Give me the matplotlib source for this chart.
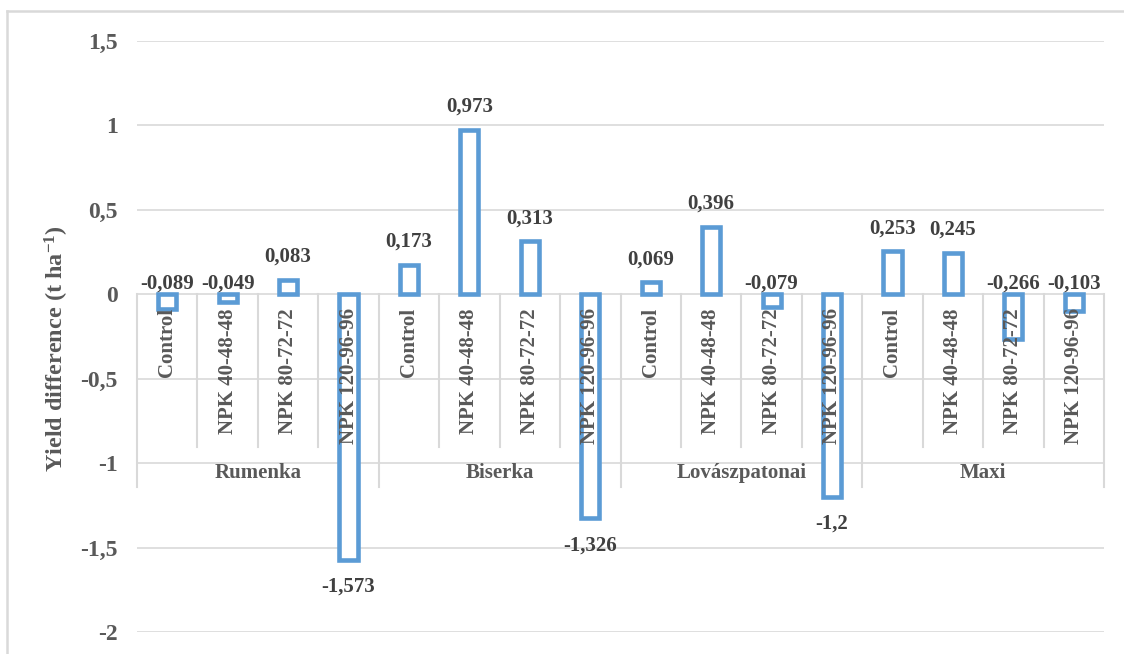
import matplotlib
matplotlib.use("Agg")
import matplotlib.pyplot as plt
from matplotlib.lines import Line2D

groups = ["Rumenka", "Biserka", "Lovászpatonai", "Maxi"]
treatments = ["Control", "NPK 40-48-48", "NPK 80-72-72", "NPK 120-96-96"]
values = [-0.089, -0.049, 0.083, -1.573,
          0.173, 0.973, 0.313, -1.326,
          0.069, 0.396, -0.079, -1.2,
          0.253, 0.245, -0.266, -0.103]
yticks = [-2, -1.5, -1, -0.5, 0, 0.5, 1, 1.5]

plt.rcParams['font.family'] = ['Liberation Serif', 'DejaVu Serif']
plt.rcParams['font.weight'] = 'bold'
plt.rcParams['mathtext.fontset'] = 'custom'
plt.rcParams['mathtext.rm'] = 'Liberation Serif:bold'
plt.rcParams['mathtext.default'] = 'rm'

W, H = 1124, 654
fig = plt.figure(figsize=(W / 100, H / 100), dpi=100)
left, right, top, bottom = 137, 1104, 40.5, 632
ax = fig.add_axes([left / W, 1 - bottom / H, (right - left) / W, (bottom - top) / H])

edge = '#5B9BD5'
grid = '#D9D9D9'
tick_c = '#595959'
lab_c = '#404040'

n = len(values)
x = list(range(n))
ax.bar(x, values, width=0.3, facecolor='white', edgecolor=edge, linewidth=3.3, zorder=3)

ax.set_xlim(-0.5, n - 0.5)
ax.set_ylim(-2, 1.5)
ax.set_yticks(yticks)
ax.set_yticklabels([("%g" % t).replace('.', ',') for t in yticks])
ax.tick_params(axis='y', length=0, pad=14, labelsize=17, labelcolor=tick_c)
ax.set_xticks([])
for s in ax.spines.values():
    s.set_visible(False)
for t in yticks:
    ax.axhline(t, color=grid, lw=1.2, zorder=1)

# pixels to data units (y)
px = 3.5 / (bottom - top)

# category axis separators
for k in range(n + 1):
    xb = k - 0.5
    long_ = (k % 4 == 0)
    y2 = -193 * px if long_ else -153 * px
    ax.plot([xb, xb], [0, y2], color=grid, lw=1.5, zorder=1, clip_on=False)

# category labels
for i in range(n):
    ax.text(i, -14 * px, treatments[i % 4], rotation=90, ha='center', va='top',
            fontsize=15, color=tick_c, zorder=5)
for g, name in enumerate(groups):
    ax.text(g * 4 + 1.5, -179 * px, name, ha='center', va='center',
            fontsize=15, color=tick_c, zorder=5)

# data labels
for i, v in enumerate(values):
    s = ("%g" % v).replace('.', ',')
    if v >= 0:
        yy = v + 23 * px
    elif v > -0.3:
        yy = 10 * px
    else:
        yy = v - 27 * px
    ax.text(i, yy, s, ha='center', va='center', fontsize=15, color=lab_c, zorder=6)

fig.text(57 / W, 1 - 349 / H, r'Yield difference (t ha$^{\mathregular{-1}}$)',
         rotation=90, ha='center', va='center', fontsize=17.5, color=tick_c)

# outer border
fig.add_artist(Line2D([7 / W, 7 / W], [0, 1 - 11 / H], color=grid, lw=1.8,
                      transform=fig.transFigure))
fig.add_artist(Line2D([7 / W, 1], [1 - 11 / H, 1 - 11 / H], color=grid, lw=1.8,
                      transform=fig.transFigure))

fig.savefig('out.png', dpi=100, facecolor='white')
